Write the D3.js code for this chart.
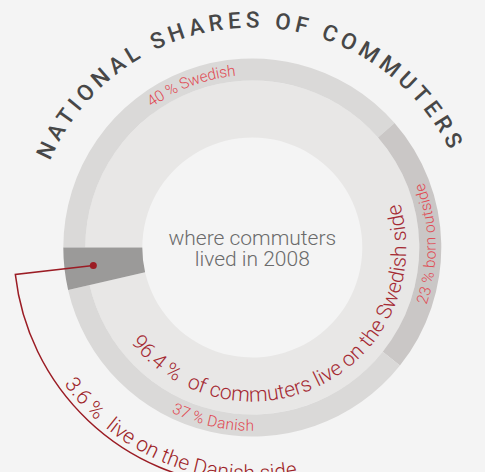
<!DOCTYPE html>
<html>
<head>
<meta charset="utf-8">
<script src="https://cdn.jsdelivr.net/npm/d3@7"></script>
<style>
  body { margin: 0; background: #f4f4f4; }
  text { font-family: Roboto, "Open Sans", sans-serif; }
</style>
</head>
<body>
<div id="main"></div>
<script>
const title = "NATIONAL SHARES OF COMMUTERS"
const centerLines = ["where commuters", "lived in 2008"]
const sides = ["Swedish side", "Danish side"]
const sideShares = [96.4, 3.6]
const sideLabels = ["of commuters live on the Swedish side", "live on the Danish side"]
const origins = ["Swedish", "born outside", "Danish"]
const originShares = [40, 23, 37]

let width = 485
let height = 472
let cx = 252.3, cy = 247.5
let deg = Math.PI / 180

let arcPath = (r, a0, a1) => {
    let p0 = [r * Math.sin(a0), -r * Math.cos(a0)]
    let p1 = [r * Math.sin(a1), -r * Math.cos(a1)]
    let large = Math.abs(a1 - a0) > Math.PI ? 1 : 0
    let sweep = a1 > a0 ? 1 : 0
    return "M" + p0 + "A" + r + "," + r + " 0 " + large + " " + sweep + " " + p1
}

let svg = d3.select('#main')
            .append('svg')
            .attr('width', width)
            .attr('height', height)

svg.append('rect').attr('width', width).attr('height', height).attr('fill', '#f4f4f4')

let defs = svg.append('defs')
let g = svg.append('g').attr('transform', 'translate(' + cx + ',' + cy + ')')

let sidePie = d3.pie().sort(null)
                .startAngle(-Math.PI / 2)
                .endAngle(3 * Math.PI / 2)(sideShares)

let originPie = d3.pie().sort(null)
                  .startAngle(sidePie[0].startAngle)
                  .endAngle(sidePie[0].endAngle)(originShares)

// inner band, Swedish side
g.append('path')
    .attr('d', d3.arc().innerRadius(110).outerRadius(167)(sidePie[0]))
    .attr('fill', '#e8e7e6')

// outer ring, origins of the Swedish side
let originColor = d3.scaleOrdinal().domain(origins).range(['#dad9d8', '#cac7c6', '#dad9d8'])
g.selectAll('.origin')
    .data(originPie)
    .enter()
    .append('path')
    .classed('origin', true)
    .attr('d', d3.arc().innerRadius(167).outerRadius(189))
    .attr('fill', (d, i) => originColor(origins[i]))

// Danish side
g.append('path')
    .attr('d', d3.arc().innerRadius(110).outerRadius(189)(sidePie[1]))
    .attr('fill', '#9b9a99')

// origin labels
originPie.forEach((d, i) => {
    let m = (d.startAngle + d.endAngle) / 2
    let flip = m > Math.PI * 0.4
    let p = flip ? arcPath(178, m + 0.9 * Math.PI, m - 0.9 * Math.PI)
                 : arcPath(178, m - 0.9 * Math.PI, m + 0.9 * Math.PI)
    defs.append('path').attr('id', 'origin' + i).attr('d', p)
    g.append('text')
        .attr('dy', '0.35em')
        .style('font-size', '15.5px')
        .style('font-weight', 300)
        .attr('fill', '#e04a53')
        .append('textPath')
        .attr('href', '#origin' + i)
        .attr('startOffset', '50%')
        .style('text-anchor', 'middle')
        .text(originShares[i] + ' % ' + origins[i])
})

// Swedish side label
let sweStart = sidePie[0].endAngle - 25 * deg
defs.append('path').attr('id', 'swePath').attr('d', arcPath(154, sweStart, sweStart - 1.9 * Math.PI))
let sweText = g.append('text')
    .style('font-size', '21px')
    .style('font-weight', 300)
    .attr('fill', '#a52a33')
    .append('textPath')
    .attr('href', '#swePath')
sweText.append('tspan').text(d3.format('.1f')(sideShares[0]) + ' %')
sweText.append('tspan').attr('dx', 11).text(sideLabels[0])

// Danish side annotation
let dm = (sidePie[1].startAngle + sidePie[1].endAngle) / 2
let pt = (r, a) => [r * Math.sin(a), -r * Math.cos(a)]
let annR = 238.5
g.append('path')
    .attr('d', 'M' + pt(160, dm) + 'L' + pt(annR, dm) + arcPath(annR, dm, dm - 80 * deg).replace(/^M[^A]*/, ''))
    .attr('fill', 'none')
    .attr('stroke', '#9b1c24')
    .attr('stroke-width', 1.5)
g.append('circle')
    .attr('cx', pt(160, dm)[0])
    .attr('cy', pt(160, dm)[1])
    .attr('r', 3.5)
    .attr('fill', '#9b1c24')

let danStart = dm - 29.5 * deg
defs.append('path').attr('id', 'danPath').attr('d', arcPath(232.5, danStart, danStart - 150 * deg))
let danText = g.append('text')
    .style('font-size', '21px')
    .style('font-weight', 300)
    .attr('fill', '#9e1f28')
    .append('textPath')
    .attr('href', '#danPath')
danText.append('tspan').text(d3.format('.1f')(sideShares[1]) + ' %')
danText.append('tspan').attr('dx', 11).text(sideLabels[1])

// title on arc
defs.append('path').attr('id', 'titlePath').attr('d', arcPath(220, -1 * deg - 0.9 * Math.PI, -1 * deg + 0.9 * Math.PI))
g.append('text')
    .style('font-size', '22.5px')
    .style('font-weight', 500)
    .style('letter-spacing', '4.6px')
    .attr('fill', '#474747')
    .append('textPath')
    .attr('href', '#titlePath')
    .attr('startOffset', '50%')
    .style('text-anchor', 'middle')
    .text(title)

// center text
g.selectAll('.center')
    .data(centerLines)
    .enter()
    .append('text')
    .classed('center', true)
    .attr('y', (d, i) => -2.5 + i * 20.7)
    .style('text-anchor', 'middle')
    .style('font-size', '21px')
    .style('font-weight', 300)
    .attr('fill', '#6b6b6b')
    .text((d) => d)
</script>
</body>
</html>
